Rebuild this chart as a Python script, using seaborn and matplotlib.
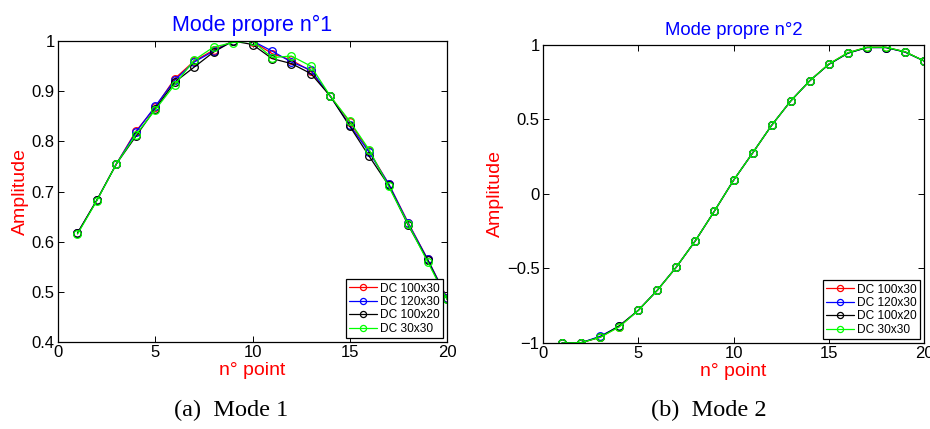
import numpy as np
import pandas as pd
import matplotlib
matplotlib.use("Agg")
import matplotlib.pyplot as plt
import seaborn as sns

points = list(range(1, 21))
series_names = ["DC 100x30", "DC 120x30", "DC 100x20", "DC 30x30"]
series_colors = ["#ff0000", "#0000ff", "#000000", "#00ff00"]

mode1_dc100x30 = [0.617, 0.683, 0.755, 0.820, 0.868, 0.925, 0.960, 0.982, 1.000, 0.999,
                  0.975, 0.962, 0.940, 0.890, 0.838, 0.780, 0.715, 0.638, 0.565, 0.488]
mode1_dc120x30 = [0.617, 0.683, 0.755, 0.818, 0.870, 0.922, 0.958, 0.980, 1.000, 1.000,
                  0.980, 0.958, 0.942, 0.890, 0.832, 0.778, 0.715, 0.637, 0.565, 0.487]
mode1_dc100x20 = [0.617, 0.683, 0.755, 0.810, 0.865, 0.918, 0.948, 0.978, 1.000, 0.993,
                  0.965, 0.955, 0.935, 0.890, 0.830, 0.770, 0.712, 0.633, 0.563, 0.485]
mode1_dc30x30 = [0.615, 0.682, 0.755, 0.813, 0.863, 0.913, 0.962, 0.988, 0.997, 1.000,
                 0.967, 0.970, 0.950, 0.890, 0.840, 0.783, 0.710, 0.635, 0.560, 0.485]

mode2_dc100x30 = [-1.000, -0.998, -0.962, -0.890, -0.781, -0.646, -0.490, -0.313, -0.114, 0.092,
                  0.275, 0.461, 0.624, 0.760, 0.872, 0.948, 0.985, 0.985, 0.955, 0.893]
mode2_dc120x30 = [-1.000, -0.998, -0.955, -0.887, -0.781, -0.645, -0.490, -0.313, -0.114, 0.092,
                  0.275, 0.461, 0.624, 0.760, 0.870, 0.945, 0.983, 0.983, 0.953, 0.893]
mode2_dc100x20 = [-1.000, -0.998, -0.960, -0.885, -0.781, -0.646, -0.490, -0.313, -0.114, 0.092,
                  0.275, 0.461, 0.624, 0.760, 0.870, 0.945, 0.983, 0.983, 0.953, 0.893]
mode2_dc30x30 = [-1.000, -0.998, -0.962, -0.892, -0.781, -0.646, -0.490, -0.313, -0.114, 0.092,
                 0.275, 0.461, 0.624, 0.760, 0.872, 0.948, 0.985, 0.985, 0.955, 0.893]

x_ticks = [0, 5, 10, 15, 20]
mode1_yticks = [0.4, 0.5, 0.6, 0.7, 0.8, 0.9, 1.0]
mode1_yticklabels = ["0.4", "0.5", "0.6", "0.7", "0.8", "0.9", "1"]
mode2_yticks = [-1, -0.5, 0, 0.5, 1]
mode2_yticklabels = ["\u22121", "\u22120.5", "0", "0.5", "1"]

sns.set_style("ticks")
plt.rcParams['font.family'] = ['Liberation Sans', 'DejaVu Sans']
plt.rcParams['text.color'] = 'black'

fig = plt.figure(figsize=(9.30, 4.29), dpi=100)
ax1 = fig.add_axes([0.0624, 0.2028, 0.4183, 0.7016])
ax2 = fig.add_axes([0.5839, 0.2005, 0.4097, 0.6946])

def make_df(vals_list):
    frames = []
    for name, vals in zip(series_names, vals_list):
        frames.append(pd.DataFrame({"point": points, "amp": vals, "serie": name}))
    return pd.concat(frames, ignore_index=True)

df1 = make_df([mode1_dc100x30, mode1_dc120x30, mode1_dc100x20, mode1_dc30x30])
df2 = make_df([mode2_dc100x30, mode2_dc120x30, mode2_dc100x20, mode2_dc30x30])

def draw(ax, df, title, tsize, yticks, yticklabels, ylim):
    for name, col in zip(series_names, series_colors):
        sub = df[df["serie"] == name]
        sns.lineplot(data=sub, x="point", y="amp", ax=ax, color=col, label=name,
                     marker="o", markersize=5.5, markerfacecolor="none",
                     markeredgecolor=col, markeredgewidth=0.9, linewidth=0.9)
    ax.set_xlim(0, 20)
    ax.set_ylim(*ylim)
    ax.set_xticks(x_ticks)
    ax.set_xticklabels([str(t) for t in x_ticks], fontsize=12)
    ax.set_yticks(yticks)
    ax.set_yticklabels(yticklabels, fontsize=12)
    ax.tick_params(direction="in", top=True, right=True, length=4, width=0.7,
                   colors="black", pad=2.5)
    for s in ax.spines.values():
        s.set_visible(True)
        s.set_color("black")
        s.set_linewidth(0.9)
    ax.set_xlabel("n\u00b0 point", color="#ff0000", fontsize=14, labelpad=1)
    ax.set_ylabel("Amplitude", color="#ff0000", fontsize=14, labelpad=2)
    ax.set_title(title, color="#0000ff", fontsize=tsize, pad=7)
    leg = ax.legend(loc="lower right", fontsize=8.6, frameon=True, fancybox=False,
                    edgecolor="black", framealpha=1, borderpad=0.3, labelspacing=0.12,
                    handlelength=2.3, handletextpad=0.3, borderaxespad=0.3,
                    markerscale=0.8)
    leg.get_frame().set_linewidth(0.9)
    for t in leg.get_texts():
        t.set_color("black")

draw(ax1, df1, "Mode propre n\u00b01", 15.5, mode1_yticks, mode1_yticklabels, (0.4, 1.0))
draw(ax2, df2, "Mode propre n\u00b02", 13.3, mode2_yticks, mode2_yticklabels, (-1, 1))

fig.text(0.249, 0.044, "(a)  Mode 1", ha="center", va="center", color="black",
         family=["Liberation Serif", "DejaVu Serif"], fontsize=17.5)
fig.text(0.762, 0.044, "(b)  Mode 2", ha="center", va="center", color="black",
         family=["Liberation Serif", "DejaVu Serif"], fontsize=17.5)

fig.savefig("out.png", dpi=100)
